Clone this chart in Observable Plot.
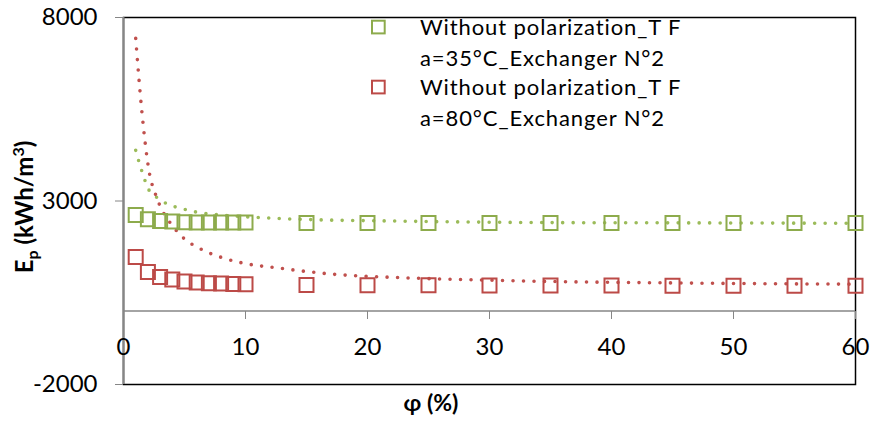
<!DOCTYPE html>
<html><head><meta charset="utf-8">
<script src="https://cdn.jsdelivr.net/npm/d3@7"></script>
<script src="https://cdn.jsdelivr.net/npm/@observablehq/plot@0.6"></script>
<style>
body{margin:0;background:#fff;}
#wrap{width:870px;height:422px;}
</style></head><body><div id="wrap"></div>
<script>
// ---- data ----
const phi = [1,2,3,4,5,6,7,8,9,10,15,20,25,30,35,40,45,50,55,60];
const ep35 = [2621,2504,2458,2441,2422,2414,2414,2414,2414,2414,2402,2401,2401,2400,2400,2400,2400,2399,2399,2398];
const ep80 = [1477,1068,932,861,807,779,760,752,741,733,710,705,702,700,697,695,693,692,690,688];
// dotted trendlines
const trend35X = [1,1.48,2.08,2.7,3.42,4.24,5.06,5.9,7.6,10.2,12.7,16.2,21.3,27.3,33.3,45,60];
const trend35Y = [4380,3839,3302,3104,2948,2839,2768,2703,2632,2567,2523,2485,2458,2431,2414,2405,2393];
const trend80X = [1,1.5,2.13,2.6,3.28,3.75,4.87,6.31,7.9,9.57,12.98,17.2,22.4,27.6,33.6,44.8,60];
const trend80Y = [7430,5455,3749,3204,2676,2441,2005,1695,1477,1324,1161,1005,915,861,815,768,733];
const yTicks = [-2000,3000,8000];
const xTicks = [0,10,20,30,40,50,60];
const seriesLabels = [["Without polarization_T F","a=35°C_Exchanger N°2"],["Without polarization_T F","a=80°C_Exchanger N°2"]];
const markerColors = ["#8DAB4C","#BC4A47"];
const trendColors = ["#9BBB59","#C0504D"];

const pts35 = phi.map((x,i)=>({x, y:ep35[i]}));
const pts80 = phi.map((x,i)=>({x, y:ep80[i]}));
const tr35 = trend35X.map((x,i)=>({x, y:trend35Y[i]}));
const tr80 = trend80X.map((x,i)=>({x, y:trend80Y[i]}));

const FONT = "Lato, 'Liberation Sans', sans-serif";
const dotted = {strokeWidth:3.6, strokeDasharray:"0 10.5", strokeLinecap:"round", curve:"monotone-x"};

const plot = Plot.plot({
  width:870, height:422,
  marginLeft:123, marginRight:15, marginTop:17, marginBottom:38,
  style:{fontFamily:FONT, fontSize:"24px", background:"white", color:"black", overflow:"visible"},
  x:{domain:[0,60]},
  y:{domain:[-2000,8000]},
  marks:[
    Plot.frame({stroke:"#000", strokeWidth:1.5}),
    Plot.ruleY([0], {stroke:"#868686", strokeWidth:1.5}),
    Plot.ruleX([0], {stroke:"#868686", strokeWidth:2}),
    Plot.axisY({ticks:yTicks, tickSize:8, tickPadding:18, stroke:"#868686", label:null, tickFormat:d=>String(d)}),
    Plot.axisX({ticks:xTicks, tickSize:8, tickPadding:18, dy:-73, stroke:"#868686", label:null, tickFormat:d=>String(d)}),
    Plot.line(tr35, {x:"x", y:"y", stroke:trendColors[0], ...dotted}),
    Plot.line(tr80, {x:"x", y:"y", stroke:trendColors[1], ...dotted}),
    Plot.dot(pts35, {x:"x", y:"y", symbol:"square", r:7.9, stroke:markerColors[0], strokeWidth:2, fill:"none"}),
    Plot.dot(pts80, {x:"x", y:"y", symbol:"square", r:7.9, stroke:markerColors[1], strokeWidth:2, fill:"none"})
  ]
});
document.getElementById("wrap").appendChild(plot);

const svg = d3.select(plot);
// axis titles
const yt = svg.append("text")
  .attr("transform","translate(33,207) rotate(-90)")
  .attr("text-anchor","middle").attr("font-weight","bold")
  .attr("font-size",24).attr("font-family",FONT).attr("fill","#000");
yt.append("tspan").text("E");
yt.append("tspan").attr("font-size",16).attr("dy",5).text("p");
yt.append("tspan").attr("dy",-5).text(" (kWh/m");
yt.append("tspan").attr("font-size",16).attr("dy",-9).text("3");
yt.append("tspan").attr("dy",9).text(")");
svg.append("text").attr("x",431).attr("y",411).attr("text-anchor","middle")
  .attr("font-weight","bold").attr("font-size",23).attr("font-family",FONT).attr("fill","#000").text("φ (%)");

// legend
const legTop = [27, 87];
seriesLabels.forEach((lines, k) => {
  svg.append("rect").attr("x",372).attr("y",legTop[k]-6.3).attr("width",12.7).attr("height",12.7)
    .attr("fill","none").attr("stroke",markerColors[k]).attr("stroke-width",2);
  lines.forEach((t, j) => {
    svg.append("text").attr("x",420).attr("y",legTop[k]+8+j*31)
      .attr("text-anchor","start").attr("letter-spacing",0.9)
      .attr("font-size",22).attr("font-family",FONT).attr("fill","#000").text(t);
  });
});
</script></body></html>
